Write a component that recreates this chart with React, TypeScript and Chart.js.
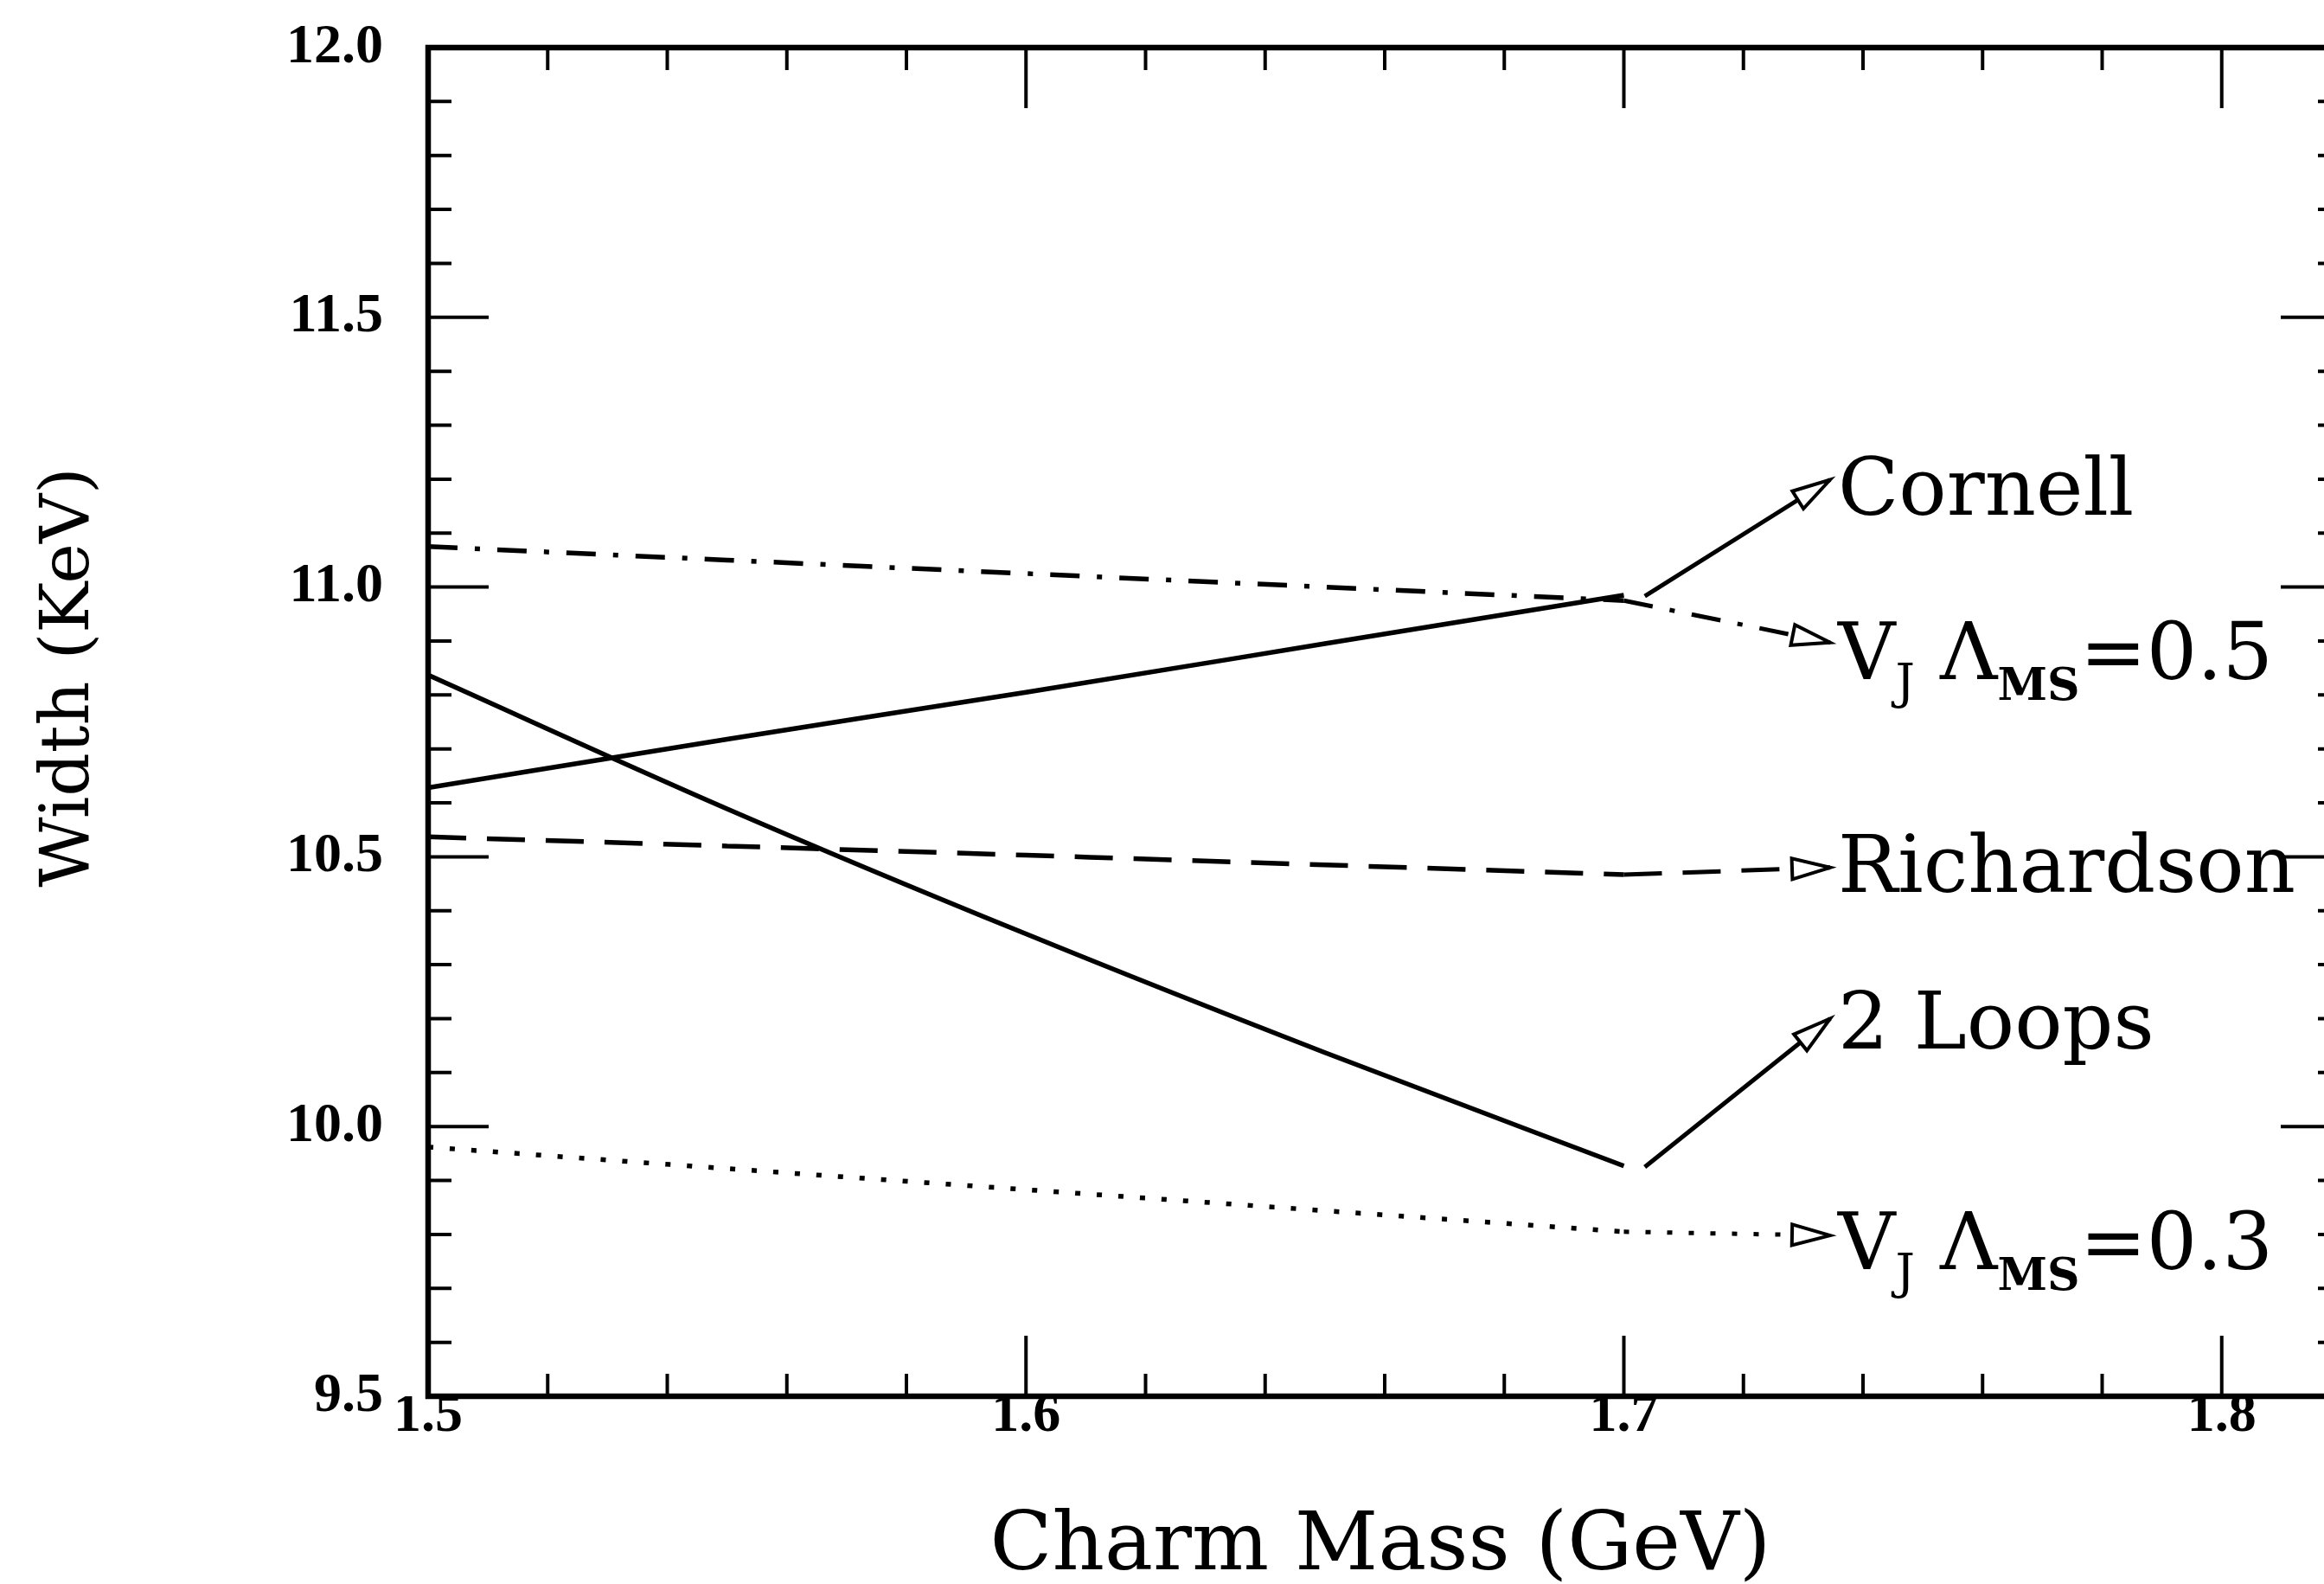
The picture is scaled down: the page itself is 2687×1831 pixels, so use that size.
import { useEffect, useRef } from "react";
import { Chart, registerables } from "chart.js";

Chart.register(...registerables);

// ---- data ----
const massGrid = [1.5, 1.55, 1.6, 1.65, 1.7];
const cornell = [10.628, 10.718, 10.805, 10.895, 10.985];
const twoLoops = [10.837, 10.589, 10.357, 10.137, 9.927];
const vj05 = [11.075, 11.05, 11.025, 11.0, 10.975];
const richardson = [10.537, 10.52, 10.503, 10.485, 10.467];
const vj03 = [9.962, 9.922, 9.883, 9.844, 9.805];

const xTicks = [1.5, 1.6, 1.7, 1.8];
const yTicks = [9.5, 10.0, 10.5, 11.0, 11.5, 12.0];
const xRange = [1.5, 1.82];
const yRange = [9.5, 12.0];
const xMinorStep = 0.02;
const yMinorStep = 0.1;

// leader arrows (data coordinates: start, tip)
const leaderStartX = [1.7035, 1.7, 1.7, 1.7035, 1.7];
const leaderStartY = [10.983, 10.975, 10.467, 9.925, 9.805];
const leaderTipX = [1.7345, 1.7345, 1.7345, 1.7345, 1.7345];
const leaderTipY = [11.199, 10.897, 10.48, 10.2, 9.798];

// curve labels (data coords of text start / baseline)
const labelX = 1.7358;
const labelBaseline = [11.134, 10.829, 10.435, 10.145, 9.736];
const labelParts: [string, number][][] = [
  [["Cornell", 0]],
  [["V", 0], ["J", 1], [" \u039B", 0], ["MS", 2], ["=0.5", 0]],
  [["Richardson", 0]],
  [["2 Loops", 0]],
  [["V", 0], ["J", 1], [" \u039B", 0], ["MS", 2], ["=0.3", 0]],
];

const xTitle = "Charm Mass (GeV)";
const yTitle = "Width (KeV)";

const SOLID: number[] = [];
const DASHDOT = [34, 20, 6, 20];
const DASHED = [44, 24];
const DOTTED = [6, 19];

const CANVAS_W = 2730;
const CANVAS_H = 1831;
const AREA_TOP = 55;
const AREA_BOTTOM = 1614;
const AREA_LEFT = 495;
const AREA_RIGHT = 2707;

function pts(xs: number[], ys: number[]) {
  return xs.map((x, i) => ({ x, y: ys[i] }));
}

const curveStyles = [SOLID, SOLID, DASHDOT, DASHED, DOTTED];
const curveData = [cornell, twoLoops, vj05, richardson, vj03];
const curveNames = ["Cornell", "2 Loops", "VJ 0.5", "Richardson", "VJ 0.3"];
const leaderStyles = [SOLID, DASHDOT, DASHED, SOLID, DOTTED];

const framePlugin = {
  id: "framePlugin",
  beforeDatasetsDraw(chart: any) {
    const { ctx, chartArea: a, scales } = chart;
    const xs = scales.x;
    const ys = scales.y;
    ctx.save();
    ctx.strokeStyle = "#000";
    ctx.lineCap = "butt";
    ctx.lineWidth = 4;
    const nx = Math.round((xRange[1] - xRange[0]) / xMinorStep);
    for (let i = 0; i <= nx; i++) {
      const v = xRange[0] + i * xMinorStep;
      const major = Math.abs(v * 10 - Math.round(v * 10)) < 1e-6;
      const len = major ? 70 : 26;
      const px = xs.getPixelForValue(v);
      ctx.beginPath();
      ctx.moveTo(px, a.bottom);
      ctx.lineTo(px, a.bottom - len);
      ctx.moveTo(px, a.top);
      ctx.lineTo(px, a.top + len);
      ctx.stroke();
    }
    const ny = Math.round((yRange[1] - yRange[0]) / yMinorStep);
    for (let i = 0; i <= ny; i++) {
      const v = yRange[0] + i * yMinorStep;
      const major = Math.abs(v * 2 - Math.round(v * 2)) < 1e-6;
      const len = major ? 70 : 27;
      const py = ys.getPixelForValue(v);
      ctx.beginPath();
      ctx.moveTo(a.left, py);
      ctx.lineTo(a.left + len, py);
      ctx.moveTo(a.right, py);
      ctx.lineTo(a.right - len, py);
      ctx.stroke();
    }
    ctx.lineWidth = 6.5;
    ctx.strokeRect(a.left, a.top, a.right - a.left, a.bottom - a.top);
    ctx.restore();
  },
  afterDatasetsDraw(chart: any) {
    const { ctx, scales } = chart;
    const xs = scales.x;
    const ys = scales.y;
    ctx.save();
    chart.data.datasets.forEach((ds: any, i: number) => {
      if (!ds.arrow) return;
      const meta = chart.getDatasetMeta(i);
      const p = meta.data;
      const a = p[p.length - 2];
      const b = p[p.length - 1];
      const dx = b.x - a.x;
      const dy = b.y - a.y;
      const d = Math.hypot(dx, dy) || 1;
      const ux = dx / d;
      const uy = dy / d;
      const L = 44;
      const W = 12;
      const bx = b.x - ux * L;
      const by = b.y - uy * L;
      ctx.beginPath();
      ctx.moveTo(b.x, b.y);
      ctx.lineTo(bx - uy * W, by + ux * W);
      ctx.lineTo(bx + uy * W, by - ux * W);
      ctx.closePath();
      ctx.fillStyle = "#fff";
      ctx.fill();
      ctx.lineWidth = 4;
      ctx.setLineDash([]);
      ctx.strokeStyle = "#000";
      ctx.lineJoin = "miter";
      ctx.stroke();
    });

    ctx.fillStyle = "#000";
    ctx.textAlign = "left";
    ctx.textBaseline = "alphabetic";
    const fonts = [
      '92px "DejaVu Serif"',
      '56px "DejaVu Serif"',
      'bold 52px "DejaVu Serif"',
    ];
    const shifts = [0, 22, 24];
    labelParts.forEach((parts, i) => {
      let x = xs.getPixelForValue(labelX);
      const y = ys.getPixelForValue(labelBaseline[i]);
      parts.forEach(([t, kind]) => {
        ctx.font = fonts[kind];
        ctx.fillText(t, x, y + shifts[kind]);
        x += ctx.measureText(t).width;
      });
    });

    const ca = chart.chartArea;
    ctx.save();
    ctx.font = '94px "DejaVu Serif"';
    ctx.textAlign = "center";
    ctx.fillText(xTitle, (ca.left + ca.right) / 2 - 5, 1814);
    ctx.restore();

    ctx.save();
    ctx.font = '79px "DejaVu Serif"';
    ctx.textAlign = "center";
    ctx.translate(102, 783);
    ctx.rotate(-Math.PI / 2);
    ctx.fillText(yTitle, 0, 0);
    ctx.restore();

    ctx.restore();
  },
};

export default function App() {
  const ref = useRef<HTMLCanvasElement>(null);

  useEffect(() => {
    const canvas = ref.current;
    if (!canvas) return;

    const datasets: any[] = [];
    curveData.forEach((vals, i) => {
      datasets.push({
        label: curveNames[i],
        data: pts(massGrid, vals),
        borderColor: "#000",
        borderWidth: 5.5,
        borderDash: curveStyles[i],
        borderCapStyle: "butt",
        pointRadius: 0,
        fill: false,
        cubicInterpolationMode: "monotone",
      });
    });
    leaderStartX.forEach((sx, i) => {
      datasets.push({
        label: "leader " + i,
        arrow: true,
        data: pts([sx, leaderTipX[i]], [leaderStartY[i], leaderTipY[i]]),
        borderColor: "#000",
        borderWidth: 5,
        borderDash: leaderStyles[i],
        borderCapStyle: "butt",
        pointRadius: 0,
        fill: false,
        tension: 0,
      });
    });

    const tickFont = {
      family: "Liberation Serif",
      weight: "bold" as const,
      size: 64,
      lineHeight: 0.6,
    };

    const chart = new Chart(canvas, {
      type: "line",
      data: { datasets },
      options: {
        animation: false,
        responsive: false,
        devicePixelRatio: 1,
        layout: {
          padding: { left: 0, top: AREA_TOP, right: CANVAS_W - AREA_RIGHT, bottom: 0 },
        },
        plugins: {
          legend: { display: false },
          tooltip: { enabled: false },
          title: { display: false },
        },
        elements: { point: { radius: 0 } },
        scales: {
          x: {
            type: "linear",
            min: xRange[0],
            max: xRange[1],
            afterFit: (s: any) => {
              s.height = CANVAS_H - AREA_BOTTOM;
              s.paddingLeft = 0;
              s.paddingRight = 0;
            },
            afterBuildTicks: (s: any) => {
              s.ticks = xTicks.map((v) => ({ value: v }));
            },
            grid: { display: false, drawTicks: false },
            border: { display: false },
            ticks: {
              font: tickFont,
              color: "#000",
              padding: 4,
              maxRotation: 0,
              autoSkip: false,
              callback: (v: any) => Number(v).toFixed(1),
            },
          },
          y: {
            type: "linear",
            min: yRange[0],
            max: yRange[1],
            afterFit: (s: any) => {
              s.width = AREA_LEFT;
              s.paddingTop = 0;
              s.paddingBottom = 0;
            },
            afterBuildTicks: (s: any) => {
              s.ticks = yTicks.map((v) => ({ value: v }));
            },
            grid: { display: false, drawTicks: false },
            border: { display: false },
            ticks: {
              font: tickFont,
              color: "#000",
              padding: 52,
              autoSkip: false,
              callback: (v: any) => Number(v).toFixed(1),
            },
          },
        },
      } as any,
      plugins: [framePlugin],
    });

    return () => chart.destroy();
  }, []);

  return (
    <div
      style={{
        position: "fixed",
        left: 0,
        top: 0,
        width: 2687,
        height: 1831,
        overflow: "hidden",
        background: "#fff",
      }}
    >
      <canvas
        ref={ref}
        width={CANVAS_W}
        height={CANVAS_H}
        style={{ display: "block", width: CANVAS_W, height: CANVAS_H }}
      />
    </div>
  );
}
